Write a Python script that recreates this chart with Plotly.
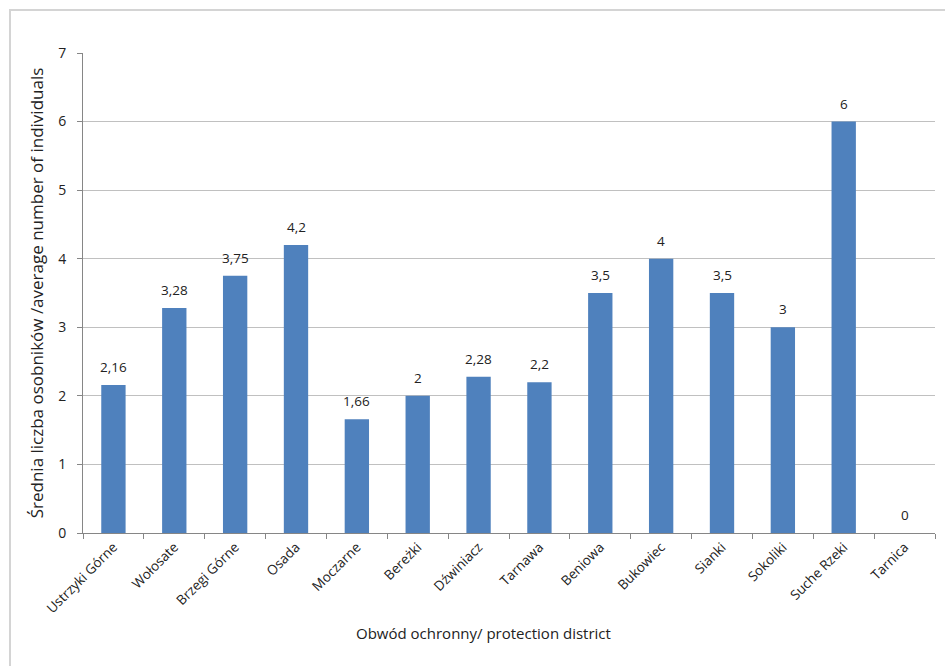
import plotly.graph_objects as go

categories = ["Ustrzyki Górne", "Wołosate", "Brzegi Górne", "Osada", "Moczarne",
              "Bereżki", "Dźwiniacz", "Tarnawa", "Beniowa", "Bukowiec", "Sianki",
              "Sokoliki", "Suche Rzeki", "Tarnica"]
values = [2.16, 3.28, 3.75, 4.2, 1.66, 2, 2.28, 2.2, 3.5, 4, 3.5, 3, 6, 0]
labels = [("%g" % v).replace(".", ",") for v in values]

W, H = 945, 666
L, R, T, B = 83, 10, 53, 133
pw, ph = W - L - R, H - T - B

def px(x):
    return (x - L) / pw

def py(y):
    return (H - B - y) / ph

fig = go.Figure(go.Bar(
    x=categories, y=values,
    marker=dict(color="#4f81bd", line=dict(width=0)),
    cliponaxis=False,
))

annotations = [dict(x=c, y=v, text=t, xref="x", yref="y", showarrow=False,
                    yanchor="middle", yshift=18,
                    font=dict(family="Open Sans", size=13.5, color="#222222"))
               for c, v, t in zip(categories, values, labels)]
annotations.append(dict(text="Obwód ochronny/ protection district",
                        xref="paper", yref="paper", x=px(483), y=py(633),
                        showarrow=False, font=dict(size=15), xanchor="center",
                        yanchor="middle"))

fig.update_layout(
    width=W, height=H,
    margin=dict(l=L, r=R, t=T, b=B),
    paper_bgcolor="white", plot_bgcolor="white",
    bargap=0.6, showlegend=False,
    font=dict(family="Open Sans", size=13, color="#222222"),
    xaxis=dict(
        tickangle=-45, ticks="outside", tickson="boundaries", ticklen=5,
        tickcolor="#868686", showline=True, linecolor="#868686", linewidth=1,
        tickfont=dict(size=13.5), showgrid=False,
    ),
    yaxis=dict(
        range=[0, 7], dtick=1, ticks="outside", ticklen=5, tickcolor="#868686",
        showline=True, linecolor="#868686", linewidth=1,
        showgrid=True, gridcolor="#c0c0c0", gridwidth=1,
        tickfont=dict(size=14), zeroline=False, ticklabelstandoff=8,
        title=dict(text="Średnia liczba osobników /average number of individuals",
                   font=dict(size=17), standoff=10),
    ),
    shapes=[dict(type="rect", xref="paper", yref="paper",
                 x0=px(10), x1=px(960), y0=py(680), y1=py(10),
                 line=dict(color="#d4d4d4", width=2), layer="below")],
    annotations=annotations,
)

fig.write_html("out.html")
